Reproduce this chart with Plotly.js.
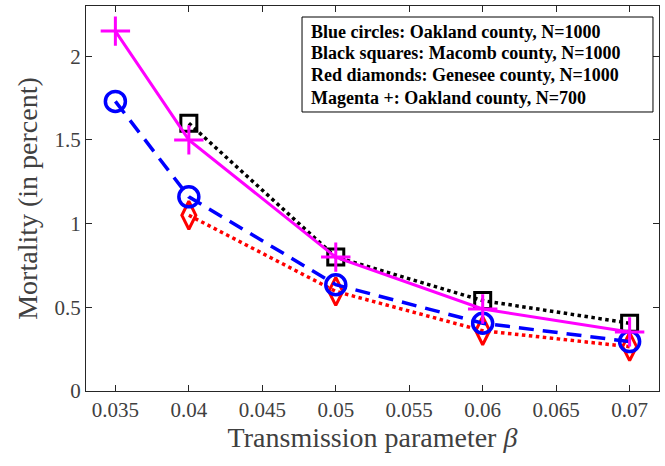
<!DOCTYPE html>
<html>
<head>
<meta charset="utf-8">
<script src="https://cdn.plot.ly/plotly-3.0.1.min.js"></script>
<style>html,body{margin:0;padding:0;background:#fff;}#chart{width:665px;height:466px;}</style>
</head>
<body>
<div id="chart"></div>
<script>
// Data
const beta = [0.035, 0.04, 0.05, 0.06, 0.07];
const betaShort = [0.04, 0.05, 0.06, 0.07];
const oakland1000 = [1.73, 1.16, 0.635, 0.405, 0.295];
const macomb1000 = [1.60, 0.80, 0.54, 0.405];
const genesee1000 = [1.05, 0.595, 0.36, 0.265];
const oakland700 = [2.15, 1.50, 0.80, 0.49, 0.353];
const xTicks = [0.035, 0.04, 0.045, 0.05, 0.055, 0.06, 0.065, 0.07];
const xTickText = ['0.035', '0.04', '0.045', '0.05', '0.055', '0.06', '0.065', '0.07'];
const yTicks = [0, 0.5, 1, 1.5, 2];
const yTickText = ['0', '0.5', '1', '1.5', '2'];
const legendLines = [
  'Blue circles: Oakland county, N=1000',
  'Black squares: Macomb county, N=1000',
  'Red diamonds: Genesee county, N=1000',
  'Magenta +: Oakland county, N=700'
];

const traces = [
  {x: betaShort, y: genesee1000, mode: 'lines+markers', type: 'scatter',
   line: {color: '#ff0000', width: 3.5, dash: 'dot'},
   marker: {symbol: 'diamond-tall-open', size: 20, color: '#ff0000', line: {width: 3, color: '#ff0000'}}},
  {x: beta, y: oakland1000, mode: 'lines+markers', type: 'scatter',
   line: {color: '#0000ff', width: 3.5, dash: '15px,9px'},
   marker: {symbol: 'circle-open', size: 20, color: '#0000ff', line: {width: 3.5, color: '#0000ff'}}},
  {x: betaShort, y: macomb1000, mode: 'lines+markers', type: 'scatter',
   line: {color: '#000000', width: 3.5, dash: 'dot'},
   marker: {symbol: 'square-open', size: 16, color: '#000000', line: {width: 3, color: '#000000'}}},
  {x: beta, y: oakland700, mode: 'lines+markers', type: 'scatter',
   line: {color: '#ff00ff', width: 3},
   marker: {symbol: 'cross-thin-open', size: 21, color: '#ff00ff', line: {width: 3, color: '#ff00ff'}}}
];

const axisCommon = {
  showgrid: false, zeroline: false, showline: true, linecolor: '#262626', linewidth: 1,
  mirror: 'ticks', ticks: 'inside', ticklen: 6, tickwidth: 1, tickcolor: '#262626',
  tickfont: {family: 'Liberation Serif, Times New Roman, serif', size: 21, color: '#404040'}
};

// legend box text lines (paper y of each line centre)
const legendY = [0.9333, 0.8771, 0.8208, 0.7618];
const annotations = legendLines.map((s, i) => ({
  xref: 'paper', yref: 'paper', x: 0.3892, y: legendY[i], xanchor: 'left', yanchor: 'middle',
  text: '<b>' + s + '</b>', showarrow: false, align: 'left',
  font: {family: 'Liberation Serif, Times New Roman, serif', size: 18, color: '#000000'}
}));

const layout = {
  width: 665, height: 466,
  margin: {l: 86, r: 6, t: 6, b: 75},
  paper_bgcolor: '#ffffff', plot_bgcolor: '#ffffff',
  showlegend: false,
  xaxis: Object.assign({}, axisCommon, {
    range: [0.033, 0.072], tickvals: xTicks, ticktext: xTickText,
    title: {text: 'Transmission parameter <i>β</i>', standoff: 5,
            font: {family: 'Liberation Serif, Times New Roman, serif', size: 28, color: '#404040'}}
  }),
  yaxis: Object.assign({}, axisCommon, {
    range: [0, 2.3], tickvals: yTicks, ticktext: yTickText,
    title: {text: 'Mortality (in percent)', standoff: 8,
            font: {family: 'Liberation Serif, Times New Roman, serif', size: 28, color: '#404040'}}
  }),
  shapes: [{
    type: 'rect', xref: 'paper', yref: 'paper', x0: 0.377, x1: 0.9895, y0: 0.7247, y1: 0.9714,
    line: {color: '#000000', width: 1}, fillcolor: '#ffffff', layer: 'above'
  }],
  annotations: annotations
};

Plotly.newPlot('chart', traces, layout, {displayModeBar: false, staticPlot: true});
</script>
</body>
</html>
